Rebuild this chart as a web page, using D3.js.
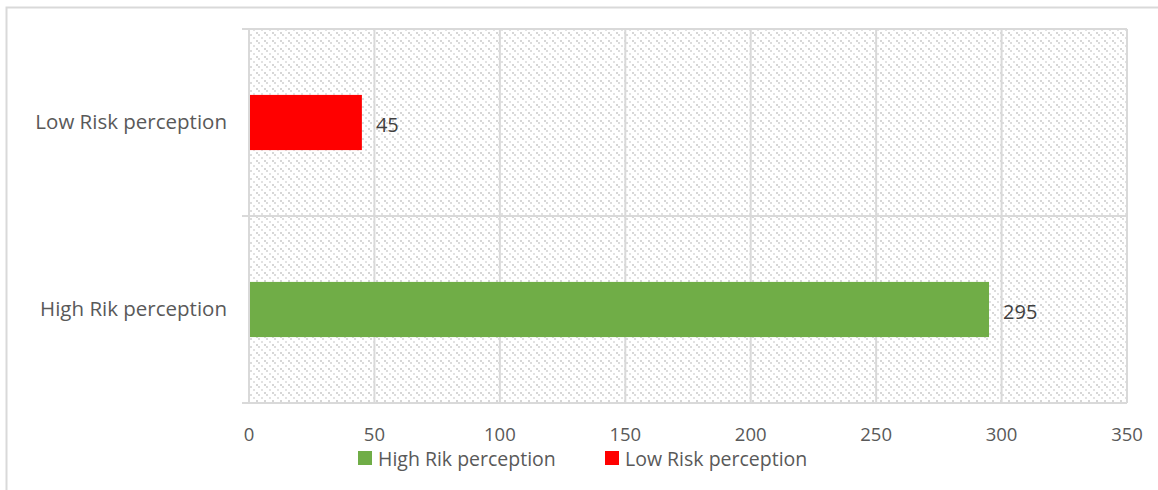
<!DOCTYPE html>
<html>
<head>
<meta charset="utf-8" />
<title>risk perception</title>
<script src="https://cdn.jsdelivr.net/npm/d3@7"></script>
<style>
	body { margin: 0; background: #fff; }
	text { font-family: "Open Sans", "Noto Sans", sans-serif; }
</style>
</head>
<body>
<div id="chart"></div>
<script>

// data
const categories = ["High Rik perception", "Low Risk perception"];
const values = [295, 45];
const colors = ["#70ad47", "#ff0000"];
const xTicks = [0, 50, 100, 150, 200, 250, 300, 350];

const width = 1158, height = 490;
const margin = {top: 29, right: 30, bottom: 86, left: 249};

let svg = d3.select("#chart").append("svg")
	.attr("width", width)
	.attr("height", height);

// outer chart border (only top and left visible)
svg.append("path")
	.attr("d", "M6.5,490V7.5H1158")
	.attr("fill", "none")
	.attr("stroke", "#d9d9d9")
	.attr("stroke-width", 2);

// hatch pattern for plot area
let defs = svg.append("defs");
let pat = defs.append("pattern")
	.attr("id", "hatch")
	.attr("patternUnits", "userSpaceOnUse")
	.attr("width", 8)
	.attr("height", 8);
pat.append("rect").attr("x", 0).attr("y", 0).attr("width", 2).attr("height", 2).attr("fill", "#d6d6d6");
pat.append("rect").attr("x", 2).attr("y", 2).attr("width", 2).attr("height", 2).attr("fill", "#dcdcdc");
pat.append("rect").attr("x", 5).attr("y", 5).attr("width", 2).attr("height", 2).attr("fill", "#e2e2e2");

let x = d3.scaleLinear()
	.domain([0, 350])
	.range([margin.left, width - margin.right - 1]);

// Low on top, High at bottom
let y = d3.scaleBand()
	.domain(categories.slice().reverse())
	.range([margin.top, height - margin.bottom - 1])
	.padding(0);

const barH = y.bandwidth() * 0.295;

svg.append("rect")
	.attr("x", x(0))
	.attr("y", margin.top)
	.attr("width", x(350) - x(0))
	.attr("height", y.range()[1] - margin.top)
	.attr("fill", "url(#hatch)");

// vertical gridlines
svg.append("g")
	.selectAll("line")
	.data(xTicks)
	.enter().append("line")
	.attr("x1", d => x(d))
	.attr("x2", d => x(d))
	.attr("y1", margin.top)
	.attr("y2", y.range()[1])
	.attr("stroke", "#d9d9d9")
	.attr("stroke-width", 2);

// category boundaries with outward ticks
let bounds = categories.map(c => y(c)).concat([y.range()[1]]);
svg.append("g")
	.selectAll("line")
	.data(bounds)
	.enter().append("line")
	.attr("x1", x(0) - 7)
	.attr("x2", x(350))
	.attr("y1", d => d)
	.attr("y2", d => d)
	.attr("stroke", "#d9d9d9")
	.attr("stroke-width", 2);

// bars
svg.append("g")
	.selectAll("rect")
	.data(categories)
	.enter().append("rect")
	.attr("x", x(0) + 1)
	.attr("y", d => y(d) + y.bandwidth() / 2 - barH / 2)
	.attr("width", (d, i) => x(values[i]) - x(0) - 1)
	.attr("height", barH)
	.attr("fill", (d, i) => colors[i]);

// data labels
svg.append("g")
	.selectAll("text")
	.data(categories)
	.enter().append("text")
	.attr("x", (d, i) => x(values[i]) + 14)
	.attr("y", d => y(d) + y.bandwidth() / 2 + 2)
	.attr("dy", "0.35em")
	.attr("font-size", 20)
	.attr("fill", "#404040")
	.text((d, i) => values[i]);

// category labels
svg.append("g")
	.selectAll("text")
	.data(categories)
	.enter().append("text")
	.attr("x", x(0) - 22)
	.attr("y", d => y(d) + y.bandwidth() / 2 - 1)
	.attr("dy", "0.35em")
	.attr("text-anchor", "end")
	.attr("font-size", 20.5)
	.attr("fill", "#595959")
	.text(d => d);

// x tick labels
svg.append("g")
	.selectAll("text")
	.data(xTicks)
	.enter().append("text")
	.attr("x", d => x(d))
	.attr("y", 435)
	.attr("dy", "0.35em")
	.attr("text-anchor", "middle")
	.attr("font-size", 18.5)
	.attr("fill", "#595959")
	.text(d => d);

// legend
const legendX = [358, 605];
let lg = svg.append("g")
	.selectAll("g")
	.data(categories)
	.enter().append("g")
	.attr("transform", (d, i) => "translate(" + legendX[i] + ",451)");
lg.append("rect")
	.attr("width", 14)
	.attr("height", 14)
	.attr("fill", (d, i) => colors[i]);
lg.append("text")
	.attr("x", 20)
	.attr("y", 8)
	.attr("dy", "0.35em")
	.attr("font-size", 19.5)
	.attr("fill", "#595959")
	.text(d => d);

</script>
</body>
</html>
